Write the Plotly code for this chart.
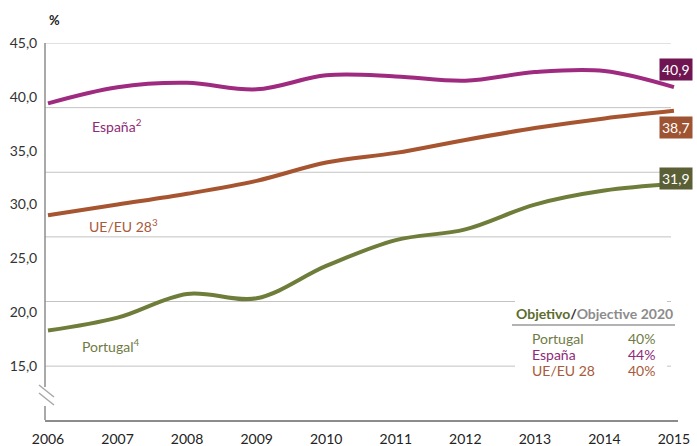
import plotly.graph_objects as go

years = [2006, 2007, 2008, 2009, 2010, 2011, 2012, 2013, 2014, 2015]
espana = [39.4, 40.9, 41.3, 40.7, 42.0, 41.9, 41.5, 42.3, 42.4, 40.9]
ue_eu28 = [29.0, 30.0, 31.0, 32.2, 33.9, 34.8, 36.0, 37.1, 38.0, 38.7]
portugal = [18.3, 19.5, 21.7, 21.3, 24.3, 26.7, 27.7, 30.0, 31.3, 31.9]

y_tick_vals = [15, 20, 25, 30, 35, 40, 45]
y_tick_text = ["15,0", "20,0", "25,0", "30,0", "35,0", "40,0", "45,0"]
grid_vals = [15, 21, 27, 33, 39, 45]

end_labels = ["40,9", "38,7", "31,9"]
goal_names = ["Portugal", "España", "UE/EU 28"]
goal_values = ["40%", "44%", "40%"]

C_ES = "#9E2B7F"
C_UE = "#A65530"
C_PT = "#6E7D3A"
BOX_ES = "#6E1552"
BOX_UE = "#9E5332"
BOX_PT = "#5A5F35"
TXT_ES = "#8E2A78"
TXT_UE = "#A85A3A"
TXT_PT = "#6F7B45"

W, H = 697, 446
L, R, T, B = 45, 19, 43, 26
PW, PH = W - L - R, H - T - B


def px(x):
    return (x - L) / PW


def py(y):
    return (H - B - y) / PH


FONT = "Lato"

fig = go.Figure()
for vals, col, name in [(espana, C_ES, "España"), (ue_eu28, C_UE, "UE/EU 28"), (portugal, C_PT, "Portugal")]:
    fig.add_trace(go.Scatter(
        x=years, y=vals, mode="lines", name=name,
        line=dict(color=col, width=4, shape="spline", smoothing=1.0),
        hoverinfo="x+y",
    ))

shapes = []
# gridlines
for g in grid_vals:
    shapes.append(dict(type="line", xref="paper", yref="y", x0=0, x1=px(671), y0=g, y1=g,
                       line=dict(color="#C3C3C3", width=1), layer="below"))
# white box behind objective table
shapes.append(dict(type="rect", xref="paper", yref="paper", x0=px(515), x1=px(667), y0=py(380), y1=py(296),
                   fillcolor="white", line=dict(width=0), layer="below"))
# left axis line with break
shapes.append(dict(type="line", xref="paper", yref="paper", x0=0, x1=0, y0=1, y1=py(387),
                   line=dict(color="#8C8C8C", width=1.5)))
shapes.append(dict(type="line", xref="paper", yref="paper", x0=0, x1=0, y0=py(406), y1=0,
                   line=dict(color="#8C8C8C", width=1.5)))
for yb in (385, 393):
    shapes.append(dict(type="line", xref="paper", yref="paper", x0=px(39), x1=px(54), y0=py(yb), y1=py(yb + 12),
                       line=dict(color="#A8A8A8", width=1.5)))
# underline of objectives table
shapes.append(dict(type="line", xref="paper", yref="paper", x0=px(512), x1=px(675), y0=py(325), y1=py(325),
                   line=dict(color="#9A9A9A", width=1.5)))

ann = []


def txt(text, x, y, color, xanchor="center", size=14):
    ann.append(dict(text=text, xref="paper", yref="paper", x=px(x), y=py(y), xanchor=xanchor,
                    yanchor="middle", showarrow=False, font=dict(size=size, color=color, family=FONT)))


txt("<b>%</b>", 54, 20, "#222", size=13)
txt("España<sup>2</sup>", 90, 125, TXT_ES, "left")
txt("UE/EU 28<sup>3</sup>", 87, 225, TXT_UE, "left")
txt("Portugal<sup>4</sup>", 80, 345, TXT_PT, "left")

for vals, t, box, ys in [(espana, end_labels[0], BOX_ES, 18), (ue_eu28, end_labels[1], BOX_UE, -17),
                         (portugal, end_labels[2], BOX_PT, 6)]:
    ann.append(dict(text=t, x=years[-1], y=vals[-1], xref="x", yref="y", showarrow=False,
                    xshift=2, yshift=ys, bgcolor=box, borderpad=2, yanchor="middle",
                    font=dict(size=14, color="white", family=FONT)))

txt("<b><span style='color:#5C6B2E'>Objetivo</span><span style='color:#333333'>/</span>"
    "<span style='color:#8C8C8C'>Objective 2020</span></b>", 594, 313, "#333")
for i, (n, v, c) in enumerate(zip(goal_names, goal_values, [TXT_PT, TXT_ES, TXT_UE])):
    yy = 338 + i * 16
    txt(n, 530, yy, c, "left")
    txt(v, 657, yy, c, "right")

fig.update_layout(
    width=W, height=H,
    margin=dict(l=L, r=R, t=T, b=B, autoexpand=False),
    paper_bgcolor="white", plot_bgcolor="white",
    showlegend=False,
    font=dict(family=FONT, size=14, color="#333"),
    shapes=shapes, annotations=ann,
    xaxis=dict(range=[2005.957, 2015.058], tickvals=years, ticktext=[str(y) for y in years],
               showgrid=False, zeroline=False, showline=True, linecolor="#8C8C8C", linewidth=1.5,
               ticks="outside", ticklen=5, tickcolor="rgba(0,0,0,0)", automargin=False,
               tickfont=dict(size=14, color="#222", family=FONT)),
    yaxis=dict(range=[10, 45], tickvals=y_tick_vals, ticktext=y_tick_text,
               showgrid=False, zeroline=False, showline=False,
               ticks="outside", ticklen=4, tickcolor="rgba(0,0,0,0)", automargin=False,
               tickfont=dict(size=14, color="#333", family=FONT)),
)

fig.write_html("out.html", config={"displayModeBar": False},
               post_script="document.body.style.margin='0';document.body.style.padding='0';")
